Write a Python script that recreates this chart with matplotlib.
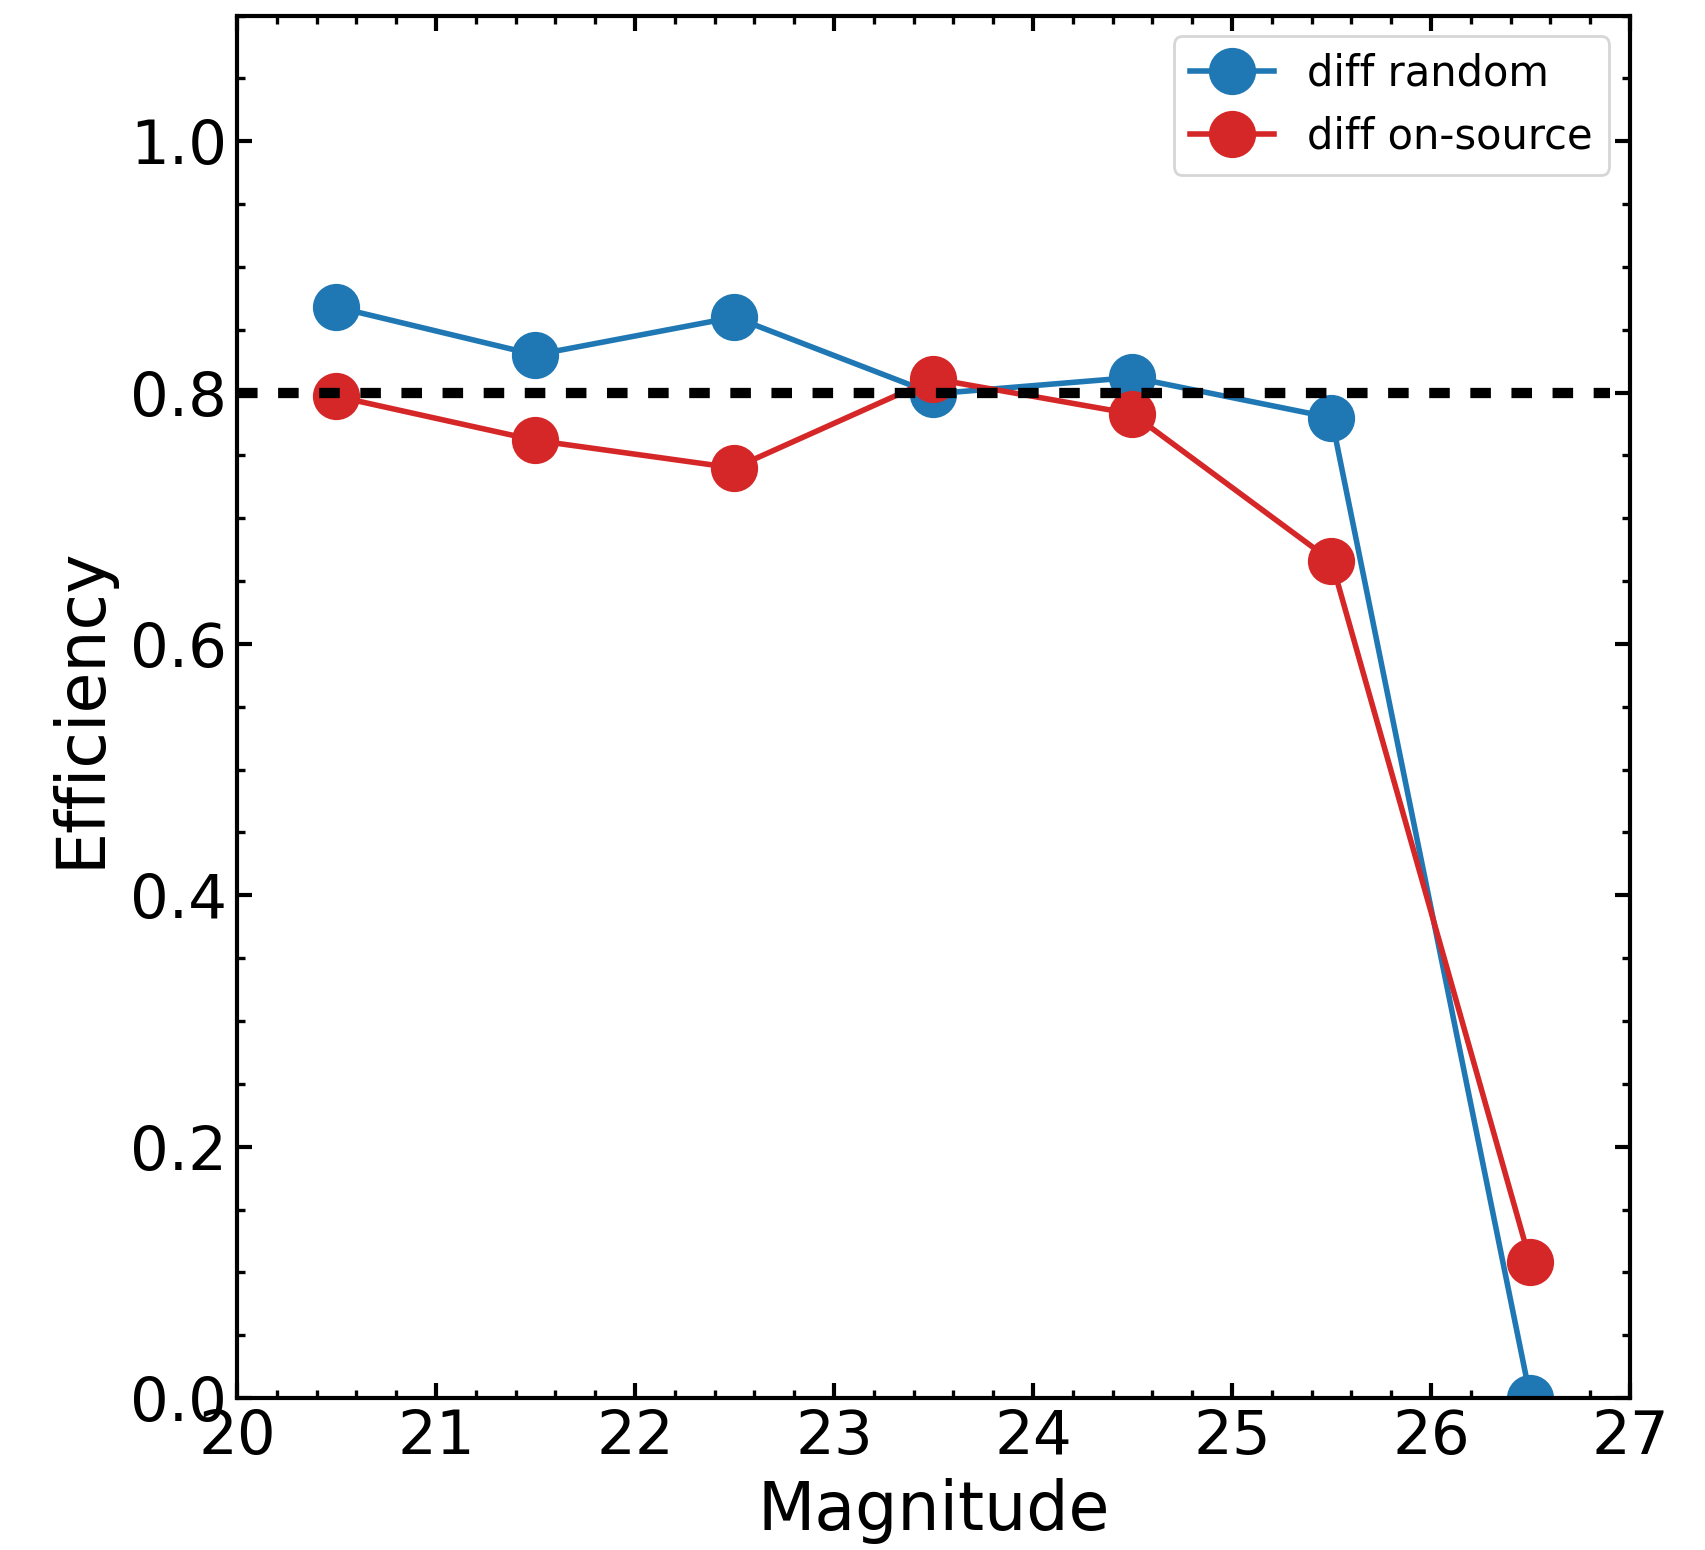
import matplotlib
matplotlib.use("Agg")
import matplotlib.pyplot as plt
from matplotlib.ticker import MultipleLocator

# dados
magnitude = [20.5, 21.5, 22.5, 23.5, 24.5, 25.5, 26.5]
eff_random = [0.868, 0.830, 0.860, 0.799, 0.812, 0.780, 0.0]
eff_onsource = [0.797, 0.762, 0.740, 0.811, 0.783, 0.666, 0.108]
limiar = 0.8

fig = plt.figure(figsize=(8.525, 7.75), dpi=200)
ax = fig.add_axes([0.139, 0.098, 0.817, 0.892])

ax.plot(magnitude, eff_random, "-o", color="#1f77b4", lw=2, ms=16, label="diff random")
ax.plot(magnitude, eff_onsource, "-o", color="#d62728", lw=2, ms=16, label="diff on-source")
ax.axhline(limiar, color="black", lw=3.7, ls=(0, (2, 2)), xmin=0.0, xmax=0.986)

ax.set_xlim(20, 27)
ax.set_ylim(0, 1.1)
ax.xaxis.set_major_locator(MultipleLocator(1))
ax.xaxis.set_minor_locator(MultipleLocator(0.2))
ax.yaxis.set_major_locator(MultipleLocator(0.2))
ax.yaxis.set_minor_locator(MultipleLocator(0.05))
ax.tick_params(which="both", direction="in", top=True, right=True, labelsize=22)
ax.tick_params(which="major", length=5.5, width=1.5)
ax.tick_params(which="minor", length=3, width=1.2)
for s in ax.spines.values():
    s.set_linewidth(1.5)

ax.set_xlabel("Magnitude", fontsize=24, labelpad=4)
ax.set_ylabel("Efficiency", fontsize=24, labelpad=6)
ax.legend(loc="upper right", fontsize=15)

fig.savefig("out.png", dpi=200)
